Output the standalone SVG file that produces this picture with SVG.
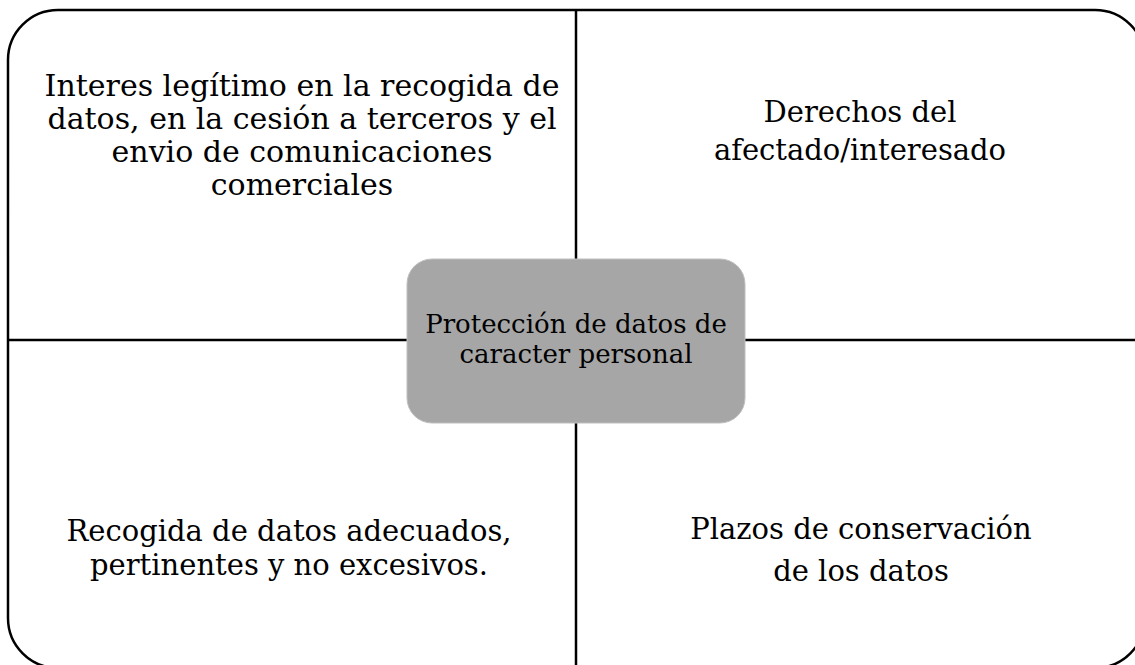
<svg xmlns="http://www.w3.org/2000/svg" width="1135" height="665" viewBox="0 0 1135 665">
<style>
.t{font-family:"DejaVu Serif","Liberation Serif",serif;font-size:29px;fill:#000;text-anchor:middle}
.tl{font-size:30px}
.c{font-family:"DejaVu Serif","Liberation Serif",serif;font-size:26px;fill:#000;text-anchor:middle}
.ln{stroke:#000;stroke-width:2.5;fill:none}
</style>
<rect width="1135" height="665" fill="#fff"/>
<g id="frame">
<rect x="8" y="10" width="1137" height="658" rx="50" ry="50" fill="#fff" stroke="#000" stroke-width="2.5"/>
</g>
<g id="connectors">
<line class="ln" x1="576" y1="10" x2="576" y2="259"/>
<line class="ln" x1="576" y1="423" x2="576" y2="668"/>
<line class="ln" x1="8" y1="340" x2="407" y2="340"/>
<line class="ln" x1="745" y1="340" x2="1135" y2="340"/>
</g>
<g id="node-tl">
<text class="t tl" x="302" y="96">Interes legítimo en la recogida de</text>
<text class="t tl" x="302" y="129">datos, en la cesión a terceros y el</text>
<text class="t tl" x="302" y="162">envio de comunicaciones</text>
<text class="t tl" x="302" y="195">comerciales</text>
</g>
<g id="node-tr">
<text class="t" x="860" y="122">Derechos del</text>
<text class="t" x="860" y="160">afectado/interesado</text>
</g>
<g id="node-bl">
<text class="t" x="289" y="541">Recogida de datos adecuados,</text>
<text class="t" x="289" y="575">pertinentes y no excesivos.</text>
</g>
<g id="node-br">
<text class="t" x="861" y="539">Plazos de conservación</text>
<text class="t" x="861" y="581">de los datos</text>
</g>
<g id="node-center">
<rect x="407" y="259" width="338" height="164" rx="25" ry="25" fill="#a6a6a6" stroke="#bfbfbf" stroke-width="1"/>
<text class="c" x="576" y="333">Protección de datos de</text>
<text class="c" x="576" y="363">caracter personal</text>
</g>
</svg>
